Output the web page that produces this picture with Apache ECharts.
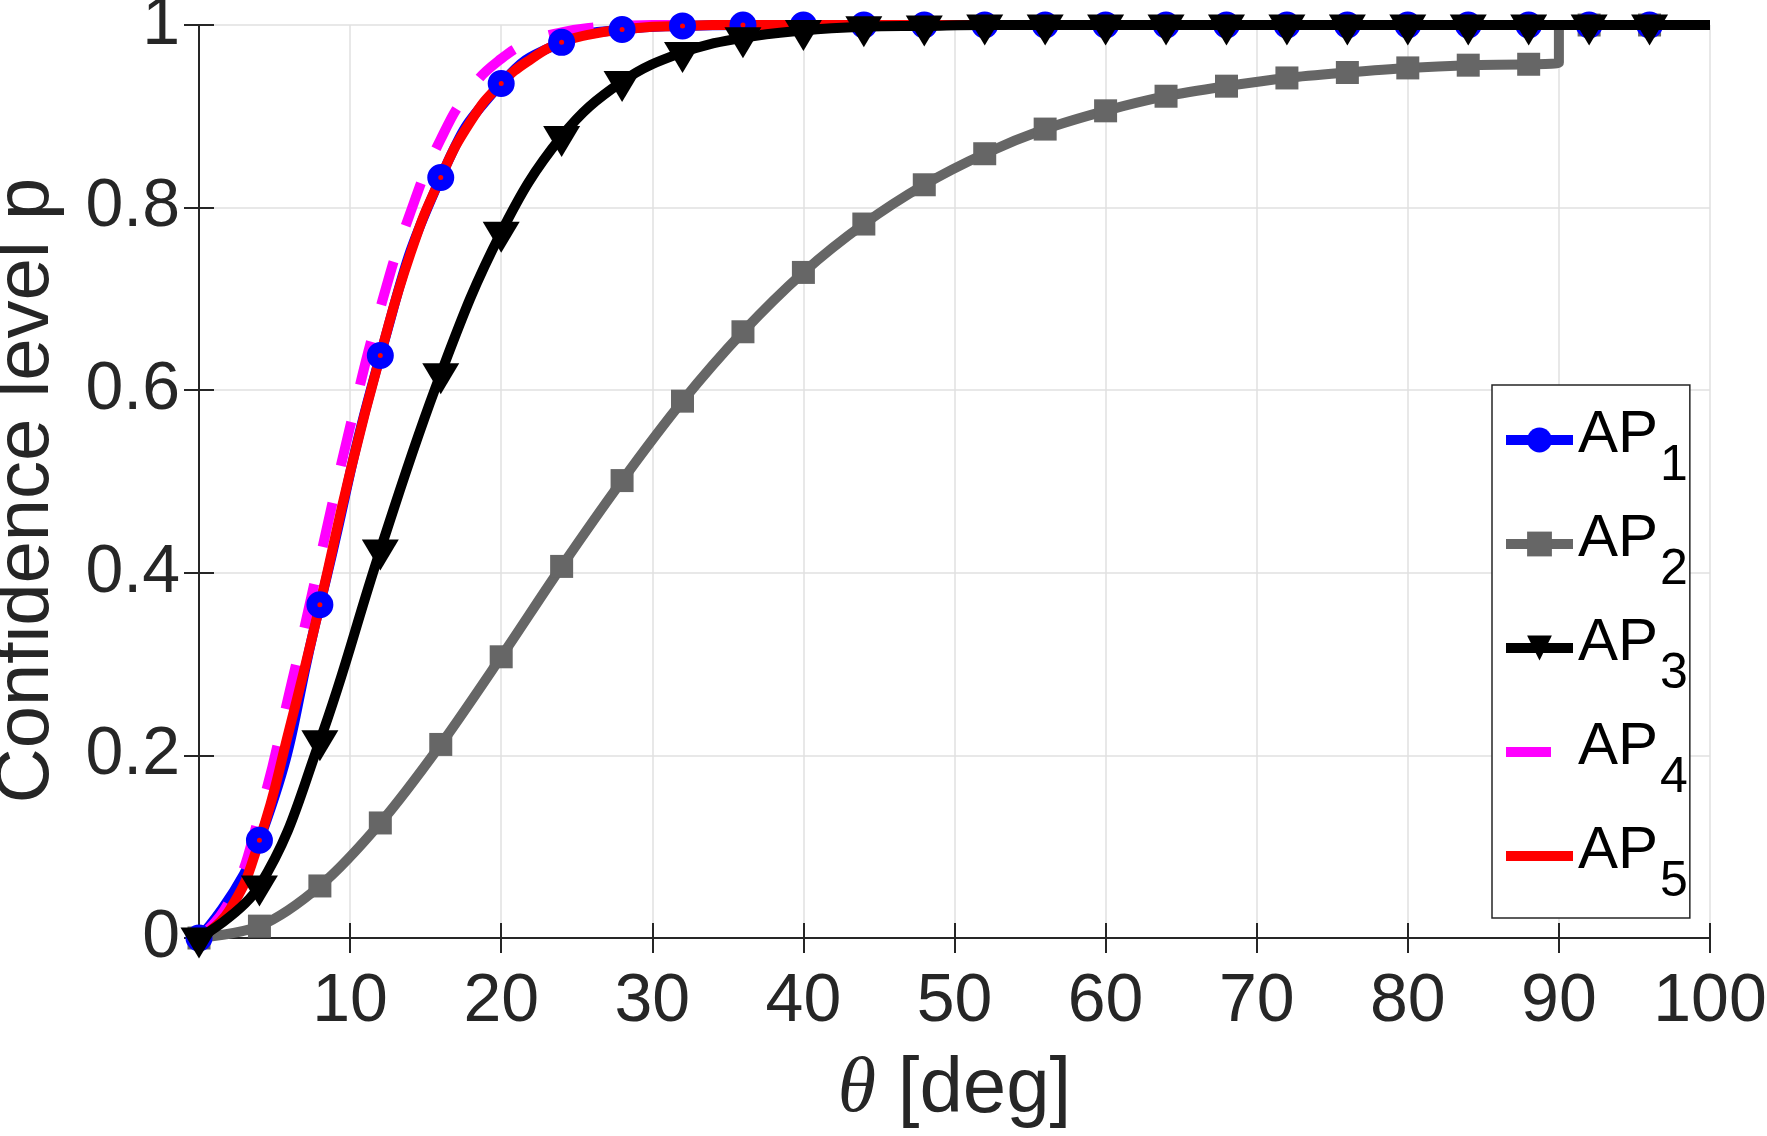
<!DOCTYPE html>
<html>
<head>
<meta charset="utf-8">
<title>Confidence level</title>
<script src="https://cdn.jsdelivr.net/npm/echarts@6/dist/echarts.min.js"></script>
<style>
    html, body { margin: 0; padding: 0; background: #fff; }
    #chart { width: 1767px; height: 1136px; }
</style>
</head>
<body>
<div id="chart"></div>
<script>
    // theta [deg] where the markers sit (last point 100 has no marker)
    const theta = [0, 4, 8, 12, 16, 20, 24, 28, 32, 36, 40, 44, 48, 52, 56, 60, 64, 68, 72, 76, 80, 84, 88, 92, 96, 100]
    const ap1 = [0, 0.107, 0.365, 0.638, 0.833, 0.936, 0.981, 0.995, 0.999, 1, 1, 1, 1, 1, 1, 1, 1, 1, 1, 1, 1, 1, 1, 1, 1, 1]
    const ap2 = [0, 0.013, 0.057, 0.126, 0.212, 0.308, 0.407, 0.501, 0.588, 0.664, 0.729, 0.782, 0.825, 0.859, 0.886, 0.906, 0.922, 0.933, 0.942, 0.948, 0.953, 0.956, 0.957, 1, 1, 1]
    const ap3 = [0, 0.057, 0.216, 0.425, 0.618, 0.773, 0.878, 0.938, 0.970, 0.986, 0.994, 0.998, 0.999, 1, 1, 1, 1, 1, 1, 1, 1, 1, 1, 1, 1, 1]
    // AP2 jumps to 1 at 90 deg
    const ap2StepTheta = 90
    const ap2StepFrom = 0.959
    const ap2StepTo = 1

    // curves without markers
    const thetaFine = [0, 2, 4, 6, 8, 10, 12, 14, 16, 18, 20, 22, 24, 26, 28, 30, 32, 34, 100]
    const ap4 = [0, 0.04, 0.135, 0.27, 0.415, 0.56, 0.69, 0.795, 0.875, 0.93, 0.963, 0.982, 0.992, 0.997, 0.999, 1, 1, 1, 1]
    const ap5 = [0, 0.03, 0.107, 0.23, 0.365, 0.51, 0.638, 0.75, 0.833, 0.895, 0.936, 0.963, 0.981, 0.99, 0.995, 0.998, 0.999, 1, 1]

    const xTicks = [0, 10, 20, 30, 40, 50, 60, 70, 80, 90, 100]
    const yTicks = [0, 0.2, 0.4, 0.6, 0.8, 1]

    const axisColor = '#262626'
    const fontFamily = 'Liberation Sans'

    // marker on every point except the last one
    function withMarkers(xs, ys) {
        return xs.map((x, i) => {
            if (i === xs.length - 1) return {value: [x, ys[i]], symbol: 'none'}
            return [x, ys[i]]
        })
    }

    let ap2Data = []
    let stepDone = false
    theta.forEach((x, i) => {
        if (x > ap2StepTheta && !stepDone) {
            ap2Data.push({value: [ap2StepTheta, ap2StepFrom], symbol: 'none'})
            ap2Data.push({value: [ap2StepTheta, ap2StepTo], symbol: 'none'})
            stepDone = true
        }
        if (i === theta.length - 1) ap2Data.push({value: [x, ap2[i]], symbol: 'none'})
        else ap2Data.push([x, ap2[i]])
    })

    let fine = (ys) => thetaFine.map((x, i) => [x, ys[i]])

    let chart = echarts.init(document.getElementById('chart'))

    // top and right edges of the box, ticks only
    let boxAxis = {
        type: 'value',
        axisLine: {show: true, lineStyle: {color: axisColor, width: 2}},
        axisTick: {show: true, inside: true, length: 15, lineStyle: {color: axisColor, width: 2}},
        axisLabel: {show: false},
        splitLine: {show: false}
    }

    let option = {
        animation: false,
        backgroundColor: '#fff',
        grid: {left: 199, right: 57, top: 25, bottom: 198, outerBoundsMode: 'none'},
        legend: {
            orient: 'vertical',
            left: 1492,
            top: 385,
            padding: [20, 2, 11, 9],
            itemGap: 18,
            itemWidth: 67,
            itemHeight: 31,
            backgroundColor: '#fff',
            borderColor: axisColor,
            borderWidth: 1.5,
            borderRadius: 0,
            lineStyle: {width: 10},
            data: [
                {name: 'AP1'},
                {name: 'AP2'},
                {name: 'AP3'},
                {name: 'AP4', itemStyle: {opacity: 0}},
                {name: 'AP5', itemStyle: {opacity: 0}}
            ],
            formatter: name => '{a|AP}{b|' + name.slice(2) + '}',
            textStyle: {
                color: '#000',
                fontFamily: fontFamily,
                rich: {
                    a: {fontSize: 60, fontFamily: fontFamily, verticalAlign: 'top', padding: [16, 0, 0, 0]},
                    b: {fontSize: 50, fontFamily: fontFamily, verticalAlign: 'top', padding: [52, 0, 0, 2]}
                }
            }
        },
        xAxis: [{
            type: 'value',
            min: xTicks[0],
            max: xTicks[xTicks.length - 1],
            interval: 10,
            name: '{t|θ} [deg]',
            nameLocation: 'middle',
            nameGap: 113,
            nameTextStyle: {
                fontSize: 78,
                fontFamily: fontFamily,
                color: axisColor,
                rich: {
                    t: {fontSize: 78, fontFamily: 'Liberation Serif', fontStyle: 'italic', color: axisColor}
                }
            },
            axisLine: {onZero: false, lineStyle: {color: axisColor, width: 2}},
            axisTick: {inside: true, length: 15, lineStyle: {color: axisColor, width: 2}},
            axisLabel: {
                fontSize: 68,
                fontFamily: fontFamily,
                color: axisColor,
                margin: 30,
                formatter: v => v === 0 ? '' : String(v)
            },
            splitLine: {show: true, lineStyle: {color: '#e0e0e0', width: 1.5}}
        }, Object.assign({}, boxAxis, {position: 'top', min: 0, max: 100, interval: 10})],
        yAxis: [{
            type: 'value',
            min: yTicks[0],
            max: yTicks[yTicks.length - 1],
            interval: 0.2,
            name: 'Confidence level p',
            nameLocation: 'middle',
            nameGap: 134,
            nameTextStyle: {fontSize: 76, fontFamily: fontFamily, color: axisColor, padding: [0, 18, 0, 0]},
            axisLine: {show: true, onZero: false, lineStyle: {color: axisColor, width: 2}},
            axisTick: {show: true, inside: true, length: 15, lineStyle: {color: axisColor, width: 2}},
            axisLabel: {fontSize: 68, fontFamily: fontFamily, color: axisColor, margin: 19},
            splitLine: {show: true, lineStyle: {color: '#e0e0e0', width: 1.5}}
        }, Object.assign({}, boxAxis, {position: 'right', min: 0, max: 1, interval: 0.2})],
        series: [
            {
                name: 'AP1',
                type: 'line',
                z: 2,
                data: withMarkers(theta, ap1),
                symbol: 'circle',
                symbolSize: 25,
                smooth: 0.5,
                itemStyle: {color: '#0000ff'},
                lineStyle: {color: '#0000ff', width: 10},
                emphasis: {disabled: true}
            },
            {
                name: 'AP2',
                type: 'line',
                z: 1,
                data: ap2Data,
                symbol: 'rect',
                symbolSize: 23,
                smooth: 0.3,
                itemStyle: {color: '#666666'},
                lineStyle: {color: '#666666', width: 10},
                emphasis: {disabled: true}
            },
            {
                name: 'AP3',
                type: 'line',
                z: 6,
                data: withMarkers(theta, ap3),
                symbol: 'triangle',
                symbolRotate: 180,
                symbolSize: [37, 31],
                symbolOffset: [0, 5],
                smooth: 0.4,
                itemStyle: {color: '#000'},
                lineStyle: {color: '#000', width: 10},
                emphasis: {disabled: true}
            },
            {
                name: 'AP4',
                type: 'line',
                z: 3,
                data: fine(ap4),
                symbol: 'none',
                smooth: 0.5,
                itemStyle: {color: '#ff00ff'},
                lineStyle: {color: '#ff00ff', width: 10, type: [45, 38]},
                emphasis: {disabled: true}
            },
            {
                name: 'AP5',
                type: 'line',
                z: 4,
                data: fine(ap5),
                symbol: 'none',
                smooth: 0.5,
                itemStyle: {color: '#ff0000'},
                lineStyle: {color: '#ff0000', width: 10},
                emphasis: {disabled: true}
            },
            {
                // AP1 markers drawn over the red curve
                name: 'AP1',
                type: 'scatter',
                z: 5,
                data: theta.slice(0, -1).map((x, i) => [x, ap1[i]]),
                symbol: 'circle',
                symbolSize: 16,
                itemStyle: {color: '#ff0000', borderColor: '#0000ff', borderWidth: 11, opacity: 1},
                emphasis: {disabled: true}
            }
        ]
    }

    chart.setOption(option)
</script>
</body>
</html>
